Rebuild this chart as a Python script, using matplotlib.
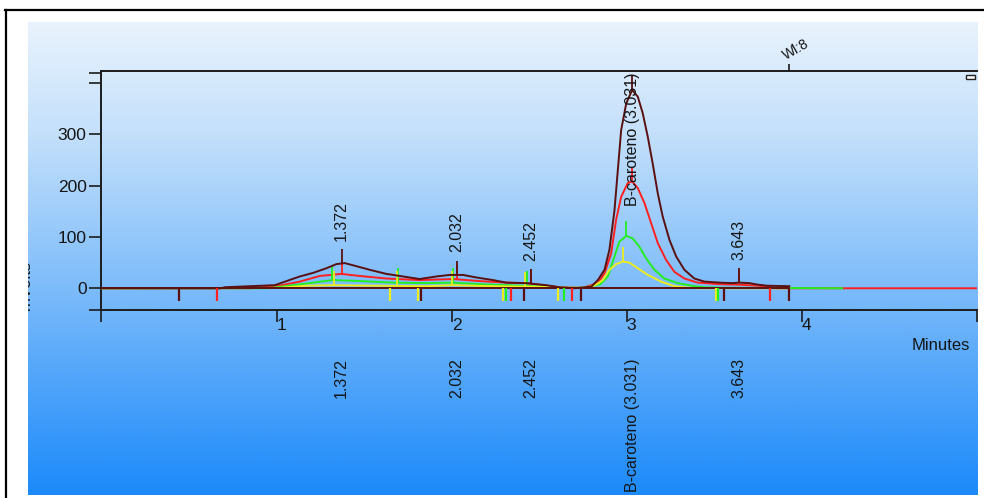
import numpy as np
import matplotlib
matplotlib.use("Agg")
import matplotlib.pyplot as plt
from matplotlib.patches import Rectangle
from matplotlib.lines import Line2D
from matplotlib.transforms import Bbox, TransformedBbox, blended_transform_factory

plt.rcParams['font.family'] = ['Liberation Sans', 'DejaVu Sans']

# ---------------- data (minutes, mVolts) ----------------
maroon_t = [0.00, 0.68, 0.705, 0.848, 0.990, 1.057, 1.133, 1.209, 1.285, 1.342, 1.390, 1.456,
            1.532, 1.627, 1.722, 1.817, 1.913, 1.989, 2.065, 2.141, 2.236, 2.312, 2.426,
            2.540, 2.616, 2.700, 2.797, 2.835, 2.873, 2.901, 2.930, 2.949, 2.968, 2.997,
            3.031, 3.063, 3.091, 3.120, 3.148, 3.177, 3.205, 3.244, 3.282, 3.329, 3.386,
            3.443, 3.529, 3.600, 3.643, 3.700, 3.750, 3.800, 3.928]
maroon_v = [0, 0, 2, 4, 6, 14, 23, 30, 39, 47, 49, 43,
            36, 28, 23, 18, 23, 26, 26, 21, 16, 11, 10,
            6, 2, 0, 3, 16, 36, 75, 152, 230, 308, 360,
            386, 373, 341, 295, 243, 185, 140, 94, 62, 36, 19,
            13, 11, 10, 11, 10, 7, 5, 4]

red_t = [0.00, 0.85, 0.95, 1.000, 1.133, 1.247, 1.370, 1.475, 1.627, 1.817, 2.008, 2.160,
         2.312, 2.426, 2.540, 2.616, 2.750, 2.835, 2.873, 2.911, 2.939, 2.968, 3.006,
         3.031, 3.063, 3.101, 3.139, 3.177, 3.225, 3.272, 3.329, 3.405, 3.530, 3.643,
         3.750, 3.817, 3.850, 4.995]
red_v = [0, 0, 3, 4, 13, 24, 28, 24, 19, 16, 18, 14,
         11, 10, 5, 2, 1, 10, 29, 68, 133, 178, 205,
         208, 195, 166, 127, 88, 55, 32, 19, 11, 8, 7,
         5, 3, 0, 0]

green_t = [0.00, 0.95, 1.000, 1.095, 1.209, 1.323, 1.475, 1.665, 1.855, 2.008, 2.160, 2.312,
           2.483, 2.616, 2.760, 2.850, 2.892, 2.930, 2.958, 2.997, 3.034, 3.072, 3.111,
           3.158, 3.215, 3.291, 3.386, 3.450, 3.550, 4.230]
green_v = [0, 0, 2, 6, 11, 16, 14, 11, 10, 11, 8, 6,
           4, 1, 1, 8, 23, 62, 91, 102, 97, 81, 58,
           36, 19, 10, 4, 2, 1, 0]

yellow_t = [0.00, 1.019, 1.171, 1.323, 1.570, 1.855, 2.008, 2.236, 2.521, 2.654, 2.780,
            2.830, 2.863, 2.901, 2.939, 2.977, 3.015, 3.063, 3.120, 3.196, 3.272, 3.329,
            3.400, 3.928]
yellow_v = [0, 1, 5, 6, 5, 4, 6, 4, 3, 1, 1,
            8, 16, 36, 47, 52, 50, 39, 26, 13, 4, 2,
            0, 0]

# integration baseline under the chromatogram
baseline_t = [0.0, 3.928]
baseline_v = [0, 0]

# labelled peaks
peak_times = [1.372, 2.032, 2.452, 3.031, 3.643]
peak_labels = ["1.372", "2.032", "2.452", "B-caroteno (3.031)", "3.643"]
maroon_peak_v = [49, 26, 10, 386, 11]
red_mark_t = [1.372, 2.032, 2.452, 3.031, 3.643]
red_mark_v = [28, 18, 10, 208, 7]
green_mark_t = [1.318, 1.694, 2.010, 2.430, 2.997]
green_mark_v = [16, 11, 11, 5, 102]
yellow_mark_t = [1.330, 1.690, 2.000, 2.420, 2.977]
yellow_mark_v = [6, 5, 6, 3, 52]

# integration events (drawn below baseline)
event_t = [0.444, 0.661, 1.646, 1.806, 1.827, 2.293, 2.308, 2.337, 2.411, 2.605, 2.639,
           2.685, 2.736, 3.512, 3.523, 3.557, 3.817, 3.928]
event_series = ['maroon', 'red', 'yellow', 'yellow', 'maroon', 'yellow', 'green', 'red',
                'maroon', 'yellow', 'green', 'red', 'maroon', 'yellow', 'green', 'maroon',
                'red', 'maroon']

wl_time = 3.928
wl_label = "Wl:8"

x_ticks = [0, 1, 2, 3, 4, 5]
x_tick_labels = ['', '1', '2', '3', '4', '']
y_ticks = [-42.3, 0, 100, 200, 300, 400, 420]
y_tick_labels = ['', '0', '100', '200', '300', '', '']
x_label = "Minutes"
y_label = "mVolts"

# ---------------- style ----------------
COL = {'maroon': '#5a1010', 'red': '#ff2020', 'green': '#22ee22', 'yellow': '#ecec1e'}
TXT = '#151515'
W, H = 984, 498
fx = lambda x: x / W
fy = lambda y: 1 - y / H

fig = plt.figure(figsize=(9.84, 4.98), dpi=100, facecolor='white')

# gradient panel
bg = fig.add_axes([fx(28), fy(495), fx(978) - fx(28), fy(22) - fy(495)])
bg.set_axis_off()
stops_y = np.array([22, 134, 288, 350, 495])
stops_c = np.array([[233, 243, 253], [196, 224, 251], [125, 188, 250],
                    [95, 172, 250], [28, 138, 250]]) / 255.0
yy = np.linspace(22, 495, 400)
grad = np.stack([np.interp(yy, stops_y, stops_c[:, k]) for k in range(3)], axis=1)
bg.imshow(grad[:, None, :], aspect='auto', extent=[0, 1, 0, 1], interpolation='bilinear')

# outer frame lines
fig.add_artist(Line2D([fx(5), fx(984)], [fy(10), fy(10)], color='black', lw=1.6))
fig.add_artist(Line2D([fx(6), fx(6)], [fy(10), fy(498)], color='black', lw=1.6))

ax = fig.add_axes([fx(101.4), fy(310), fx(977) - fx(101.4), fy(71) - fy(310)])
ax.set_facecolor('none')
ax.set_xlim(0, 4.995)
ax.set_ylim(-42.3, 423)
for s in ['left', 'bottom', 'top']:
    ax.spines[s].set_color('#1c1c1c')
    ax.spines[s].set_linewidth(1.4)
ax.spines['right'].set_visible(False)

ax.set_xticks(x_ticks)
ax.set_xticklabels(x_tick_labels, ha='left')
ax.set_yticks(y_ticks)
ax.set_yticklabels(y_tick_labels)
ax.tick_params(axis='both', direction='out', length=8.6, width=1.2, color='#1c1c1c',
               labelsize=12.5, labelcolor=TXT)
ax.tick_params(axis='x', pad=-3)
ax.tick_params(axis='y', pad=2)

lw = 1.4
ax.plot(red_t, red_v, color=COL['red'], lw=lw, zorder=3)
ax.plot(green_t, green_v, color=COL['green'], lw=lw, zorder=4)
ax.plot(yellow_t, yellow_v, color=COL['yellow'], lw=lw, zorder=5)
ax.plot(baseline_t, baseline_v, color=COL['maroon'], lw=lw, zorder=5.5)
ax.plot(maroon_t, maroon_v, color=COL['maroon'], lw=lw, zorder=6)

mark_len = 28
ax.vlines(yellow_mark_t, yellow_mark_v, np.array(yellow_mark_v) + mark_len,
          color=COL['yellow'], lw=1.3, zorder=5)
ax.vlines(green_mark_t, green_mark_v, np.array(green_mark_v) + mark_len,
          color=COL['green'], lw=1.3, zorder=4)
ax.vlines(red_mark_t, red_mark_v, np.array(red_mark_v) + mark_len,
          color=COL['red'], lw=1.3, zorder=3)
ax.vlines(peak_times, maroon_peak_v, np.array(maroon_peak_v) + mark_len,
          color=COL['maroon'], lw=1.3, zorder=6)

# event markers below baseline
ax.vlines(event_t, 0, -25, colors=[COL[c] for c in event_series], lw=1.6, zorder=6)

# peak labels above
ytop = ax.get_ylim()[1]
for t, v, lab in zip(peak_times, maroon_peak_v, peak_labels):
    yb = v + mark_len + 16
    if yb + 60 > ytop:
        ax.text(t, ytop - 2, lab, rotation=90, ha='center', va='top', fontsize=11.5,
                color=TXT, zorder=7)
    else:
        ax.text(t, yb, lab, rotation=90, ha='center', va='bottom', fontsize=11.5,
                color=TXT, zorder=7)

# peak labels below axis
trans = blended_transform_factory(ax.transData, fig.transFigure)
for t, lab in zip(peak_times, peak_labels):
    ax.text(t, fy(358), lab, rotation=90, ha='center', va='top', fontsize=11.5,
            color=TXT, transform=trans, clip_on=False)

# wavelength event
ax.vlines([wl_time], ytop, ytop + 13, color='#1c1c1c', lw=1.2, clip_on=False)
fig.text(fx(796), fy(50), wl_label, rotation=30, ha='center', va='center',
         fontsize=10, color=TXT)

# small square at top right
fig.add_artist(Rectangle((fx(966), fy(79)), 9 / W, 4 / H, transform=fig.transFigure,
                         facecolor='white', edgecolor='#222222', lw=1.0))

# axis labels
fig.text(fx(970), fy(346), x_label, ha='right', va='center', fontsize=12, color=TXT)
yl = fig.text(fx(25), fy(285), y_label, rotation=90, ha='center', va='center',
              fontsize=12, color=TXT)
yl.set_clip_box(TransformedBbox(Bbox([[fx(28), fy(495)], [fx(978), fy(22)]]),
                                fig.transFigure))
yl.set_clip_on(True)

fig.savefig('out.png', dpi=100, facecolor='white')
